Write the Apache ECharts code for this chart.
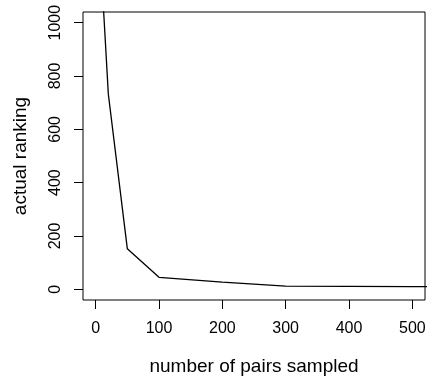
<!DOCTYPE html>
<html>
<head>
<meta charset="utf-8">
<script src="https://cdn.jsdelivr.net/npm/echarts@6/dist/echarts.min.js"></script>
<style>
html,body{margin:0;padding:0;background:#fff;}
#chart{width:427px;height:376px;}
</style>
</head>
<body>
<div id="chart"></div>
<script>
var pairsSampled = [10, 20, 50, 100, 200, 300, 400, 500, 1000];
var actualRanking = [1150, 732, 152, 45, 27, 12, 11, 10, 9];
var xTicks = [0, 100, 200, 300, 400, 500];
var yTicks = [0, 200, 400, 600, 800, 1000];

var chart = echarts.init(document.getElementById('chart'), null, {renderer: 'canvas'});
var font = '"Liberation Sans", Arial, Helvetica, sans-serif';
function plain(v) { return String(v); }
chart.setOption({
  animation: false,
  backgroundColor: '#ffffff',
  grid: {
    left: 83, top: 12, width: 342, height: 288,
    containLabel: false, outerBoundsMode: 'none',
    show: true, borderColor: '#000', borderWidth: 1, backgroundColor: 'transparent'
  },
  xAxis: {
    type: 'value', min: -20, max: 520,
    name: 'number of pairs sampled', nameLocation: 'middle', nameGap: 57,
    nameTextStyle: {fontFamily: font, fontSize: 19, color: '#000'},
    axisLine: {show: false, onZero: false},
    axisTick: {show: true, inside: false, length: 9, lineStyle: {color: '#000', width: 1}, customValues: xTicks},
    axisLabel: {fontFamily: font, fontSize: 16, color: '#000', margin: 21, customValues: xTicks, formatter: plain},
    splitLine: {show: false}
  },
  yAxis: {
    type: 'value', min: -40, max: 1040,
    name: 'actual ranking', nameLocation: 'middle', nameGap: 53, nameRotate: 90,
    nameTextStyle: {fontFamily: font, fontSize: 19, color: '#000'},
    axisLine: {show: false, onZero: false},
    axisTick: {show: true, inside: false, length: 9, lineStyle: {color: '#000', width: 1}, customValues: yTicks},
    axisLabel: {fontFamily: font, fontSize: 16, color: '#000', margin: 19, rotate: 90, customValues: yTicks, formatter: plain},
    splitLine: {show: false}
  },
  series: [{
    type: 'line',
    data: pairsSampled.map(function (x, i) { return [x, actualRanking[i]]; }),
    showSymbol: false,
    lineStyle: {color: '#000', width: 1.3},
    clip: true
  }]
});
</script>
</body>
</html>
